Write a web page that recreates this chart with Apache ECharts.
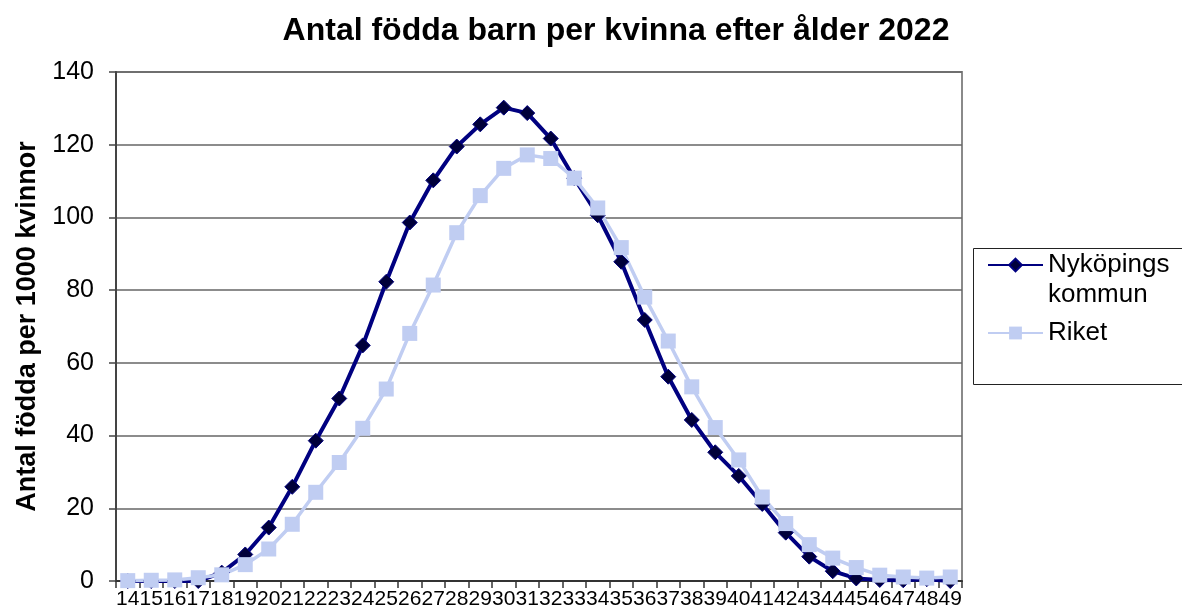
<!DOCTYPE html>
<html>
<head>
<meta charset="utf-8">
<script src="https://cdn.jsdelivr.net/npm/echarts@6/dist/echarts.min.js"></script>
<style>
    html, body { margin: 0; padding: 0; background: #fff; }
    #chart { width: 1182px; height: 613px; }
</style>
</head>
<body>
<div id="chart"></div>
<script>
    // åldrar 14-49
    var ages = ['14', '15', '16', '17', '18', '19', '20', '21', '22', '23', '24', '25',
        '26', '27', '28', '29', '30', '31', '32', '33', '34', '35', '36', '37',
        '38', '39', '40', '41', '42', '43', '44', '45', '46', '47', '48', '49'];
    var nykoping = [0, 0, 0, 0, 2.3, 7.3, 14.7, 25.9, 38.6, 50.2, 64.8, 82.3,
        98.6, 110.2, 119.5, 125.6, 130.2, 128.7, 121.7, 110.8, 100.6, 87.8, 71.8, 56.2,
        44.3, 35.4, 28.9, 21.2, 13.3, 6.7, 2.7, 0.7, 0.3, 0.2, 0.5, 0];
    var riket = [0.1, 0.2, 0.3, 0.9, 1.7, 4.5, 8.8, 15.6, 24.4, 32.6, 42.0, 52.8,
        68.1, 81.4, 95.8, 106.0, 113.5, 117.2, 116.2, 110.8, 102.6, 91.7, 78.1, 66.0,
        53.4, 42.2, 33.3, 23.1, 15.8, 10.0, 6.3, 3.7, 1.6, 1.1, 0.8, 1.1];
    var yTicks = { min: 0, max: 140, interval: 20 };

    var myChart = echarts.init(document.getElementById('chart'));
    var font = 'Liberation Sans, Arial, sans-serif';
    var option = {
        animation: false,
        title: {
            text: 'Antal födda barn per kvinna efter ålder 2022',
            left: 611,
            top: 10,
            textAlign: 'center',
            textStyle: {
                fontFamily: font,
                fontSize: 32,
                fontWeight: 'bold',
                color: '#000'
            }
        },
        grid: {
            left: 116,
            right: 220,
            top: 72,
            bottom: 32,
            show: true,
            borderColor: '#8a8a8a',
            borderWidth: 2
        },
        // legend frame
        graphic: [{
            type: 'rect',
            left: 971,
            top: 246,
            shape: { width: 220, height: 136 },
            style: { fill: 'none', stroke: '#222', lineWidth: 1 }
        }],
        legend: {
            orient: 'vertical',
            left: 987,
            top: 220,
            padding: 0,
            itemGap: 8,
            itemWidth: 55,
            itemHeight: 16,
            textStyle: {
                fontFamily: font,
                fontSize: 26,
                color: '#000',
                lineHeight: 30
            },
            formatter: function(name) {
                return name == 'Nyköpings kommun' ? '\nNyköpings\nkommun' : name;
            },
            data: ['Nyköpings kommun', 'Riket']
        },
        xAxis: {
            type: 'category',
            data: ages,
            boundaryGap: true,
            axisLine: { lineStyle: { color: '#333', width: 2 } },
            axisTick: { show: true, length: 7, lineStyle: { color: '#333', width: 1.5 } },
            axisLabel: {
                interval: 0,
                margin: 8,
                fontFamily: font,
                fontSize: 21,
                color: '#000'
            },
            splitLine: { show: false }
        },
        yAxis: {
            type: 'value',
            min: yTicks.min,
            max: yTicks.max,
            interval: yTicks.interval,
            name: 'Antal födda per 1000 kvinnor',
            nameLocation: 'middle',
            nameRotate: 90,
            nameGap: 74,
            nameTextStyle: {
                fontFamily: font,
                fontSize: 27,
                fontWeight: 'bold',
                color: '#000'
            },
            axisLine: { show: true, lineStyle: { color: '#444', width: 2 } },
            axisTick: { show: true, length: 7, lineStyle: { color: '#444', width: 1.5 } },
            axisLabel: {
                margin: 22,
                fontFamily: font,
                fontSize: 25,
                color: '#000'
            },
            splitLine: { lineStyle: { color: '#666', width: 1.5 } }
        },
        series: [
            {
                name: 'Nyköpings kommun',
                type: 'line',
                data: nykoping,
                symbol: 'diamond',
                symbolSize: 15,
                lineStyle: { color: '#000080', width: 4 },
                itemStyle: { color: '#00003a', borderColor: '#000080', borderWidth: 1 }
            },
            {
                name: 'Riket',
                type: 'line',
                data: riket,
                symbol: 'rect',
                symbolSize: 15,
                lineStyle: { color: '#c0cdf2', width: 3.5 },
                itemStyle: { color: '#c0cdf2' }
            }
        ]
    };
    myChart.setOption(option);
</script>
</body>
</html>
